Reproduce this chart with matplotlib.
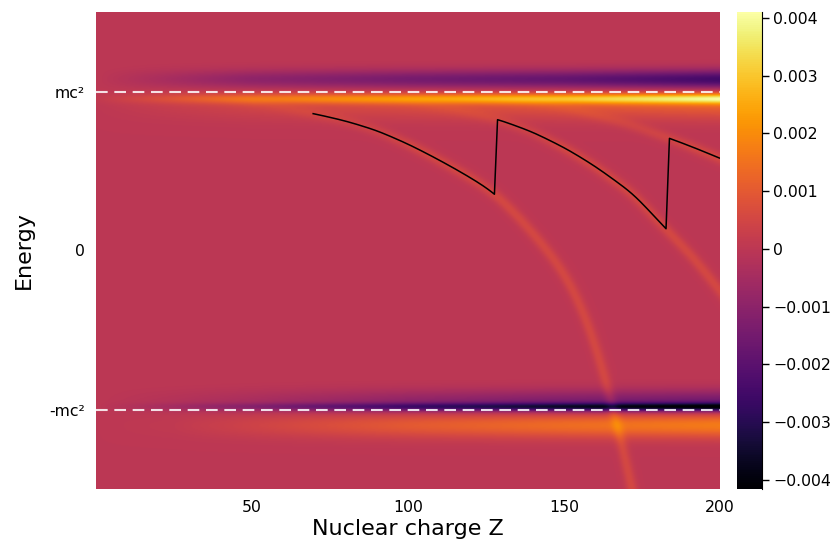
import numpy as np
import matplotlib
matplotlib.use("Agg")
import matplotlib.pyplot as plt

# bound-state levels (Z, energy in units of mc^2)
level1_z = [0, 20, 40, 55, 70, 80, 90, 100, 108, 115, 120, 124, 128, 132, 136, 140, 145, 150, 155, 160, 164, 168, 172, 176]
level1_e = [1.0, 0.99, 0.955, 0.915, 0.86, 0.815, 0.755, 0.67, 0.59, 0.515, 0.458, 0.41, 0.355, 0.28, 0.2, 0.11,
            -0.005, -0.14, -0.32, -0.58, -0.85, -1.16, -1.5, -1.88]
level2_z = [0, 50, 100, 115, 128.7, 140, 150.8, 160, 172.2, 182.7, 191.4, 200]
level2_e = [1.0, 0.99, 0.935, 0.885, 0.826, 0.745, 0.64, 0.53, 0.357, 0.136, -0.04, -0.25]
level3_z = [0, 100, 130, 150, 170, 183.8, 192, 200]
level3_e = [1.0, 0.985, 0.955, 0.9, 0.8, 0.706, 0.645, 0.58]

# tracked level (black line): Z ranges and which level it follows
track_start = [69.6, 128.7, 183.8]
track_end = [127.7, 182.7, 199.8]
track_level = [0, 1, 2]

# strength of the threshold features vs Z
amp_z = [0, 25, 50, 100, 150, 200]
upper_pos = [0.0001, 0.0008, 0.0015, 0.0022, 0.0029, 0.0040]
upper_neg = [0.0, -0.0005, -0.0010, -0.0015, -0.0019, -0.0026]
lower_neg = [0.0, -0.0005, -0.0011, -0.0025, -0.0035, -0.0042]
lower_pos = [0.0, 0.0001, 0.0004, 0.0010, 0.0014, 0.0017]

ytick_vals = [-1, 0, 1]
ytick_labels = ["-mc²", "0", "mc²"]
xtick_vals = [50, 100, 150, 200]
cbar_vals = [0.004, 0.003, 0.002, 0.001, 0, -0.001, -0.002, -0.003, -0.004]
cbar_labels = ["0.004", "0.003", "0.002", "0.001", "0", "−0.001", "−0.002", "−0.003", "−0.004"]

Z = np.linspace(0, 200, 600)
E = np.linspace(-1.5, 1.5, 900)
ZZ, EE = np.meshgrid(Z, E)


def gauss(x, c, s):
    return np.exp(-0.5 * ((x - c) / s) ** 2)


def smooth_level(lz, le, zs):
    # table lookup (linear extension past the last point), then gaussian smoothing
    zp = np.linspace(-30, 230, 1301)
    ep = np.interp(zp, lz, le)
    end_slope = (le[-1] - le[-2]) / (lz[-1] - lz[-2])
    past = zp > lz[-1]
    ep[past] = le[-1] + end_slope * (zp[past] - lz[-1])
    kz = np.arange(-50, 51)
    ker = np.exp(-0.5 * (kz / 14.0) ** 2)
    ker /= ker.sum()
    es = np.convolve(ep, ker, mode="same")
    return np.interp(zs, zp, es)


levels = [(level1_z, level1_e), (level2_z, level2_e), (level3_z, level3_e)]

field = np.zeros_like(ZZ)
a_up = np.interp(Z, amp_z, upper_pos)
a_un = np.interp(Z, amp_z, upper_neg)
a_ln = np.interp(Z, amp_z, lower_neg)
a_lp = np.interp(Z, amp_z, lower_pos)
field += a_up * (0.75 * gauss(EE, 0.955, 0.022) + 0.3 * gauss(EE, 0.93, 0.07))
field += a_un * gauss(EE, 1.075, 0.042)
field += a_ln * (0.8 * gauss(EE, -0.985, 0.018) + 0.35 * gauss(EE, -0.95, 0.05))
field += a_lp * gauss(EE, -1.10, 0.055)

# soft lines for the bound states, fading near the threshold
k = 159 / 3.12
for lz, le in levels:
    ec = smooth_level(lz, le, Z)
    slope = np.gradient(ec, Z) * k
    d = np.abs(EE - ec) * 159 / np.sqrt(1 + slope ** 2)
    fade = np.clip((1 - ec) / 0.35, 0, 1)
    field += 0.00055 * fade * np.exp(-0.5 * (d / 4.0) ** 2)

fig = plt.figure(figsize=(8.37, 5.5), dpi=100)
ax = fig.add_axes([96 / 837, 1 - 489 / 550, 624 / 837, 477 / 550])
cax = fig.add_axes([737 / 837, 1 - 489 / 550, 25 / 837, 477 / 550])

im = ax.imshow(field, origin="lower", extent=[0, 200, -1.5, 1.5], aspect="auto",
               cmap="inferno", vmin=-0.00416, vmax=0.0041, interpolation="bilinear")

for y in [1, -1]:
    ax.axhline(y, color="white", alpha=0.85, lw=1.5, dashes=(5.6, 3.2))

tz, te = [], []
for z0, z1, li in zip(track_start, track_end, track_level):
    zs = np.linspace(z0, z1, 80)
    tz.extend(zs)
    te.extend(smooth_level(*levels[li], zs))
ax.plot(tz, te, color="black", lw=1.1)

ax.set_xlim(0, 200)
ax.set_ylim(-1.5, 1.5)
ax.set_xticks(xtick_vals)
ax.set_yticks(ytick_vals)
ax.set_yticklabels(ytick_labels)
ax.tick_params(length=0, labelsize=11.3, pad=8)
for s in ax.spines.values():
    s.set_visible(False)
ax.set_xlabel("Nuclear charge Z", fontsize=16)
ax.set_ylabel("Energy", fontsize=16)
ax.xaxis.set_label_coords(0.5, -0.062)
ax.yaxis.set_label_coords(-0.1, 0.5)

cb = fig.colorbar(im, cax=cax)
cb.set_ticks(cbar_vals)
cb.set_ticklabels(cbar_labels)
cb.outline.set_visible(False)
cax.spines["right"].set_visible(True)
cax.tick_params(direction="out", length=5, width=1, labelsize=11.3, pad=3)

fig.savefig("out.png", dpi=100)
